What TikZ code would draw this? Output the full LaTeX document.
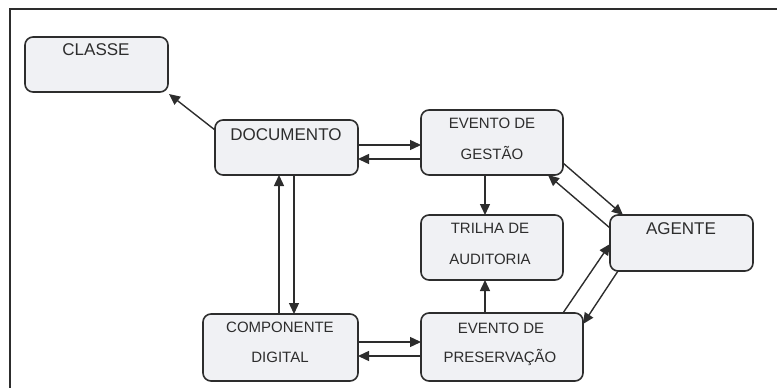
\documentclass[tikz,border=0pt]{standalone}
\usepackage{fontspec}
\setmainfont{Liberation Sans}
\usetikzlibrary{arrows.meta}
\definecolor{ink}{RGB}{45,45,45}
\definecolor{boxfill}{RGB}{240,241,244}
\tikzset{
  box/.style={draw=ink, fill=boxfill, line width=1.6pt, rounded corners=8pt, inner sep=0pt, outer sep=0pt},
  bigtxt/.style={anchor=base, inner sep=0pt, text=ink, font=\fontsize{17}{17}\selectfont},
  smalltxt/.style={anchor=base, inner sep=0pt, text=ink, font=\fontsize{15}{15}\selectfont},
  conn/.style={draw=ink, line width=1.4pt, -{Triangle[length=11pt,width=10pt]}}
}
\begin{document}
\begin{tikzpicture}[x=1pt,y=-1pt]
\useasboundingbox (0,0) rectangle (777,388);
% frame (top and left edges visible)
\coordinate (fbl) at (10,388);
\coordinate (ftl) at (10,9);
\coordinate (ftr) at (777,9);
\draw[ink, line width=1.8pt] (fbl) -- (ftl) -- (ftr);
% boxes
\node[box, minimum width=143pt, minimum height=55pt] (cls) at (96.5,64.5) {};
\node[box, minimum width=143pt, minimum height=55pt] (doc) at (286.5,147.5) {};
\node[box, minimum width=142pt, minimum height=65pt] (gest) at (492,142.5) {};
\node[box, minimum width=142pt, minimum height=65pt] (tri) at (492,247.5) {};
\node[box, minimum width=143pt, minimum height=56pt] (agt) at (681.5,243) {};
\node[box, minimum width=162pt, minimum height=68pt] (pres) at (502,347) {};
\node[box, minimum width=155pt, minimum height=67pt] (comp) at (280.5,347.5) {};
% texts
\node[bigtxt] (clsT) at (96,55) {CLASSE};
\node[bigtxt] (docT) at (286,140) {DOCUMENTO};
\node[bigtxt] (agtT) at (681,234) {AGENTE};
\node[smalltxt] (gestT1) at (492,128) {EVENTO DE};
\node[smalltxt] (gestT2) at (492,159) {GESTÃO};
\node[smalltxt] (triT1) at (490,233) {TRILHA DE};
\node[smalltxt] (triT2) at (490,264) {AUDITORIA};
\node[smalltxt] (presT1) at (501,333) {EVENTO DE};
\node[smalltxt] (presT2) at (500,362) {PRESERVAÇÃO};
\node[smalltxt] (compT1) at (280,332) {COMPONENTE};
\node[smalltxt] (compT2) at (280,362) {DIGITAL};
% connectors
\draw[conn] ([yshift=17.5pt]doc.west) -- ([xshift=1pt,yshift=-2pt]cls.south east);
\draw[conn] ([yshift=2.5pt]doc.east) -- ([yshift=-2.5pt]gest.west);
\draw[conn] ([yshift=-16.5pt]gest.west) -- ([yshift=-11.5pt]doc.east);
\draw[conn] ([xshift=-1.5pt]comp.north) -- ([xshift=-7.5pt]doc.south);
\draw[conn] ([xshift=7.5pt]doc.south) -- ([xshift=13.5pt]comp.north);
\draw[conn] ([yshift=5.5pt]comp.east) -- ([yshift=5pt]pres.west);
\draw[conn] ([yshift=-9pt]pres.west) -- ([yshift=-8.5pt]comp.east);
\draw[conn] ([xshift=-7pt]gest.south) -- ([xshift=-7pt]tri.north);
\draw[conn] ([xshift=-17pt]pres.north) -- ([xshift=-7pt]tri.south);
\draw[conn] ([yshift=-20.5pt]gest.east) -- ([xshift=-58.5pt]agt.north);
\draw[conn] ([yshift=15pt]agt.west) -- ([xshift=56pt]gest.south);
\draw[conn] ([xshift=61pt]pres.north) -- ([yshift=-1pt]agt.west);
\draw[conn] ([xshift=-63.5pt]agt.south) -- ([yshift=23pt]pres.east);
\end{tikzpicture}
\end{document}
